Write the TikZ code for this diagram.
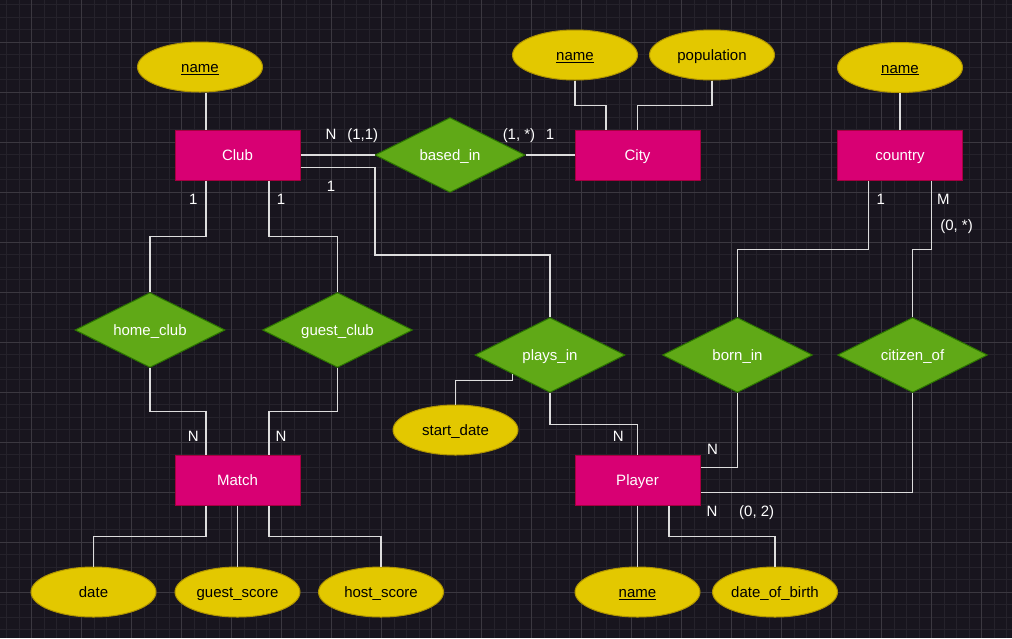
\documentclass[tikz,border=0pt]{standalone}
\usepackage{fontspec}
\setmainfont{Liberation Sans}
\usetikzlibrary{shapes.geometric,calc}
\definecolor{bgcol}{HTML}{18151E}
\definecolor{gridminor}{HTML}{25222B}
\definecolor{gridmajor}{HTML}{3B3840}
\definecolor{entfill}{HTML}{D80073}
\definecolor{entstroke}{HTML}{A50040}
\definecolor{relfill}{HTML}{60A917}
\definecolor{relstroke}{HTML}{2D7600}
\definecolor{attrfill}{HTML}{E3C800}
\definecolor{attrstroke}{HTML}{B09500}
\definecolor{linecol}{HTML}{DDDDDD}
\tikzset{
  lbl/.style={font=\fontsize{15}{18}\selectfont, text height=11pt, text depth=0pt},
  ent/.style={lbl, rectangle, draw=entstroke, fill=entfill, line width=1pt, minimum width=125pt, minimum height=50pt, inner sep=0pt, text=white},
  attr/.style={lbl, ellipse, draw=attrstroke, fill=attrfill, line width=1pt, minimum width=125pt, minimum height=50pt, inner sep=0pt, text=black},
  rel/.style={lbl, diamond, draw=relstroke, fill=relfill, line width=1pt, aspect=2, minimum width=150pt, minimum height=75pt, inner sep=0pt, text=white},
  conn/.style={draw=linecol, line width=1.1pt},
  card/.style={lbl, text=white, inner sep=0pt}
}
\begin{document}
\begin{tikzpicture}[x=1pt,y=-1pt]
\useasboundingbox (0,0) rectangle (1012,638);
\fill[bgcol] (0,0) rectangle (1012,638);
\begin{scope}
\clip (0,0) rectangle (1012,638);
\foreach \x in {6.7,19.2,...,1012} \draw[gridminor, line width=0.8pt] (\x,0) -- (\x,638);
\foreach \y in {4.8,17.3,...,638} \draw[gridminor, line width=0.8pt] (0,\y) -- (1012,\y);
\foreach \x in {31.7,81.7,...,1012} \draw[gridmajor, line width=0.8pt] (\x,0) -- (\x,638);
\foreach \y in {42.3,92.3,...,638} \draw[gridmajor, line width=0.8pt] (0,\y) -- (1012,\y);
\end{scope}

% entities
\node[ent] (club) at (237.5,155) {Club};
\node[ent] (city) at (637.5,155) {City};
\node[ent] (country) at (900,155) {country};
\node[ent] (match) at (237.5,480) {Match};
\node[ent] (player) at (637.5,480) {Player};

% relationships
\node[rel] (based) at (450,155) {based\_in};
\node[rel] (home) at (150,330) {home\_club};
\node[rel] (guest) at (337.5,330) {guest\_club};
\node[rel] (plays) at (550,355) {plays\_in};
\node[rel] (born) at (737.5,355) {born\_in};
\node[rel] (citizen) at (912.5,355) {citizen\_of};

% attributes
\node[attr] (clname) at (200,67) {\underline{name}};
\node[attr] (cname) at (575,55) {\underline{name}};
\node[attr] (pop) at (712,55) {population};
\node[attr] (cnname) at (900,67.5) {\underline{name}};
\node[attr] (sdate) at (455.5,430) {start\_date};
\node[attr] (date) at (93.5,592) {date};
\node[attr] (gscore) at (237.5,592) {guest\_score};
\node[attr] (hscore) at (381,592) {host\_score};
\node[attr] (pname) at (637.5,592) {\underline{name}};
\node[attr] (dob) at (775,592) {date\_of\_birth};

% helper coordinates
\coordinate (clubTL) at ($(club.north west)!0.25!(club.north east)$);
\coordinate (clubBL) at ($(club.south west)!0.25!(club.south east)$);
\coordinate (clubBR) at ($(club.south west)!0.75!(club.south east)$);
\coordinate (matchTL) at ($(match.north west)!0.25!(match.north east)$);
\coordinate (matchTR) at ($(match.north west)!0.75!(match.north east)$);
\coordinate (matchBL) at ($(match.south west)!0.25!(match.south east)$);
\coordinate (matchBR) at ($(match.south west)!0.75!(match.south east)$);
\coordinate (cityTL) at ($(city.north west)!0.25!(city.north east)$);
\coordinate (countryBL) at ($(country.south west)!0.25!(country.south east)$);
\coordinate (countryBR) at ($(country.south west)!0.75!(country.south east)$);
\coordinate (playerBR) at ($(player.south west)!0.75!(player.south east)$);
\coordinate (playsLL) at ($(plays.west)!0.5!(plays.south)$);
\coordinate (clubE2) at ($(club.east)+(0,12.5)$);
\coordinate (playerE1) at ($(player.east)+(0,-12.5)$);
\coordinate (playerE2) at ($(player.east)+(0,12.5)$);

% connectors
\draw[conn] (clname.south -| clubTL) -- (clubTL);
\draw[conn] (club.east) -- (based.west);
\draw[conn] (based.east) -- (city.west);
\draw[conn] (clubE2) -| (375,255) -| (plays.north);
\draw[conn] (clubBL) -- ++(0,56) -| (home.north);
\draw[conn] (clubBR) -- ++(0,56) -| (guest.north);
\draw[conn] (home.south) -- ++(0,43.2) -| (matchTL);
\draw[conn] (guest.south) -- ++(0,43.2) -| (matchTR);
\draw[conn] (matchBL) -- ++(0,31) -| (date.north);
\draw[conn] (match.south) -- (gscore.north);
\draw[conn] (matchBR) -- ++(0,31) -| (hscore.north);
\draw[conn] (cname.south) -- ++(0,25) -| (cityTL);
\draw[conn] (pop.south) -- ++(0,25) -| (city.north);
\draw[conn] (cnname.south) -- (country.north);
\draw[conn] (countryBL) -- ++(0,68.7) -| (born.north);
\draw[conn] (countryBR) -- ++(0,68.7) -| (citizen.north);
\draw[conn] (born.south) |- (playerE1);
\draw[conn] (citizen.south) |- (playerE2);
\draw[conn] (plays.south) -- ++(0,31.2) -| (player.north);
\draw[conn] (playsLL) -- ++(0,6.25) -| (sdate.north);
\draw[conn] (player.south) -- (pname.north);
\draw[conn] (playerBR) -- ++(0,31) -| (dob.north);

% cardinalities
\node[card] (c1) at (331,134) {N};
\node[card] (c2) at (362.7,134) {(1,1)};
\node[card] (c3) at (519,134) {(1, *)};
\node[card] (c4) at (550,134) {1};
\node[card] (c5) at (331,185.7) {1};
\node[card] (c6) at (193.3,199.3) {1};
\node[card] (c7) at (281,199.3) {1};
\node[card] (c8) at (193.3,435.7) {N};
\node[card] (c9) at (281,435.7) {N};
\node[card] (c10) at (880.7,199.3) {1};
\node[card] (c11) at (943.3,199.3) {M};
\node[card] (c12) at (956.5,224.7) {(0, *)};
\node[card] (c13) at (712.5,448.7) {N};
\node[card] (c14) at (618.4,435.7) {N};
\node[card] (c15) at (712,511) {N};
\node[card] (c16) at (756.7,511) {(0, 2)};
\end{tikzpicture}
\end{document}
